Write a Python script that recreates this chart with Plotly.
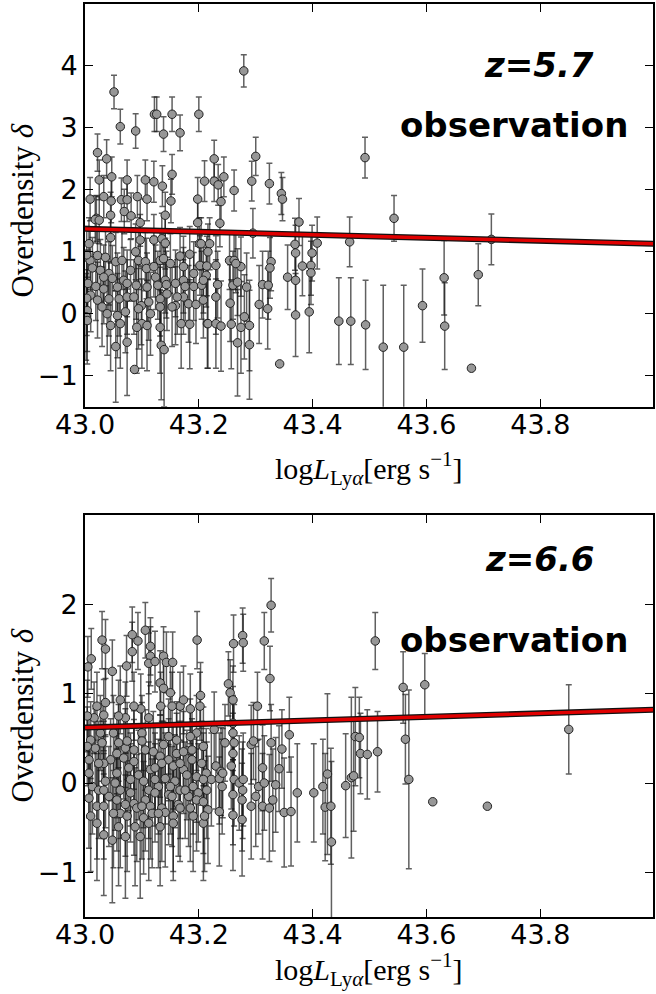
import plotly.graph_objects as go

# ---------------- data: z = 5.7 ----------------
lum_z57 = [
    43.051, 43.062, 43.089, 43.122, 43.126, 43.138, 43.153, 43.167, 43.200, 43.279,
    43.022, 43.038, 43.300, 43.227, 43.153, 43.210, 43.227, 43.234, 43.244, 43.262,
    43.293, 43.324, 43.345, 43.347, 43.376, 43.047,
    43.025, 43.074, 43.106, 43.121, 43.136,
    43.009, 43.033, 43.046, 43.064, 43.074, 43.092, 43.109, 43.151, 43.198,
    43.020, 43.018, 43.025, 43.045, 43.069, 43.081, 43.097, 43.141, 43.198,
    43.007, 43.045, 43.097, 43.121, 43.135, 43.141, 43.201,
    43.009, 43.022, 43.036, 43.054, 43.065, 43.089, 43.094, 43.106, 43.132, 43.138,
    43.167, 43.184, 43.202, 43.214,
    43.013, 43.027, 43.042, 43.048, 43.068, 43.108, 43.124, 43.141, 43.173, 43.191,
    43.005, 43.019, 43.033, 43.057, 43.074, 43.090, 43.109, 43.128, 43.143, 43.159,
    43.176, 43.191, 43.205,
    43.010, 43.022, 43.042, 43.060, 43.074, 43.099, 43.112, 43.132, 43.159, 43.173,
    43.182, 43.195,
    43.039, 43.057, 43.071, 43.094, 43.115, 43.132, 43.169, 43.184, 43.215, 43.045,
    43.062, 43.100, 43.109,
    43.054, 43.074, 43.134, 43.139, 43.087,
    43.003, 43.003, 43.004, 43.002,
    43.239, 43.237, 43.295, 43.408, 43.399, 43.370, 43.369, 43.204, 43.219, 43.216,
    43.230, 43.213, 43.254, 43.262, 43.274, 43.265, 43.327, 43.325, 43.397, 43.382,
    43.356, 43.370, 43.233, 43.260, 43.268, 43.284, 43.312, 43.322, 43.397,
    43.230, 43.306, 43.321, 43.255, 43.370, 43.394,
    43.216, 43.230, 43.239, 43.257, 43.274, 43.280, 43.289, 43.268, 43.289, 43.342,
    43.465, 43.492, 43.543, 43.446, 43.467, 43.493, 43.524, 43.560, 43.593, 43.631,
    43.632, 43.679, 43.691, 43.714,
    43.004, 43.030, 43.086, 43.144, 43.162, 43.150, 43.080, 43.033, 43.121, 43.173,
    43.208, 43.091, 43.132, 43.153, 43.208,
]
delta_z57 = [
    3.58, 3.02, 2.95, 3.22, 3.22, 2.90, 3.22, 2.92, 3.22, 3.92,
    2.60, 2.50, 2.54, 2.50, 2.25, 2.14, 2.14, 2.08, 2.21, 1.99,
    2.14, 2.10, 1.94, 1.85, 1.48, 2.21,
    2.16, 2.16, 2.16, 2.13, 2.06,
    1.85, 1.89, 1.82, 1.84, 1.84, 1.89, 1.85, 1.82, 1.85,
    1.54, 1.52, 1.51, 1.59, 1.65, 1.58, 1.47, 1.59, 1.47,
    1.13, 1.23, 1.19, 1.19, 1.21, 1.14, 1.13,
    0.86, 0.94, 0.91, 0.84, 0.86, 1.00, 0.86, 0.84, 0.86, 0.89,
    0.93, 0.96, 0.78, 0.77,
    0.74, 0.70, 0.65, 0.57, 0.54, 0.73, 0.59, 0.54, 0.54, 0.65,
    0.49, 0.44, 0.40, 0.43, 0.49, 0.46, 0.43, 0.46, 0.47, 0.49,
    0.44, 0.44, 0.46,
    0.30, 0.22, 0.24, 0.24, 0.27, 0.13, 0.19, 0.24, 0.13, 0.27,
    0.16, 0.15,
    0.00, -0.03, 0.03, 0.08, 0.00, 0.11, -0.16, -0.17, -0.16, -0.19,
    -0.16, -0.16, -0.19,
    -0.53, -0.46, -0.51, -0.58, -0.90,
    0.95, 0.25, 0.05, -0.05,
    1.81, 1.46, 1.30, 1.14, 0.98, 0.98, 1.12, 1.13, 1.13, 1.00,
    0.78, 0.62, 0.86, 0.86, 0.76, 0.81, 0.84, 0.74, 0.78, 0.77,
    0.59, 0.54, 0.47, 0.46, 0.51, 0.43, 0.47, 0.46, 0.66,
    0.27, 0.15, 0.08, 0.17, -0.02, 0.03,
    -0.16, -0.16, -0.20, -0.17, -0.22, -0.05, -0.19, -0.47, -0.50, -0.81,
    1.16, 2.52, 1.54, -0.12, -0.12, -0.18, -0.54, -0.54, 0.13, 0.58,
    -0.20, -0.88, 0.63, 1.20,
    -0.11, 0.11, 0.27, 0.32, 0.27, 0.81, 0.70, 0.59, 0.76, 0.76,
    0.54, -0.22, -0.22, 0.11, 0.22,
]
err_z57 = [
    0.27, 0.28, 0.28, 0.28, 0.28, 0.28, 0.28, 0.29, 0.28, 0.26,
    0.30, 0.31, 0.31, 0.30, 0.32, 0.33, 0.33, 0.33, 0.32, 0.33,
    0.32, 0.33, 0.34, 0.35, 0.38, 0.32,
    0.32, 0.32, 0.32, 0.33, 0.33,
    0.35, 0.34, 0.35, 0.35, 0.35, 0.34, 0.35, 0.35, 0.35,
    0.37, 0.38, 0.38, 0.37, 0.36, 0.37, 0.38, 0.37, 0.38,
    0.42, 0.41, 0.41, 0.41, 0.41, 0.42, 0.42,
    0.47, 0.46, 0.46, 0.47, 0.47, 0.45, 0.47, 0.47, 0.47, 0.46,
    0.46, 0.45, 0.48, 0.48,
    0.49, 0.50, 0.51, 0.53, 0.53, 0.49, 0.52, 0.53, 0.53, 0.51,
    0.54, 0.55, 0.56, 0.55, 0.54, 0.55, 0.55, 0.55, 0.54, 0.54,
    0.55, 0.55, 0.55,
    0.59, 0.61, 0.60, 0.60, 0.60, 0.63, 0.62, 0.60, 0.63, 0.60,
    0.62, 0.63,
    0.67, 0.68, 0.66, 0.65, 0.67, 0.64, 0.72, 0.72, 0.72, 0.73,
    0.72, 0.72, 0.73,
    0.90, 0.86, 0.88, 0.92, 0.00,
    0.46, 0.60, 0.66, 0.70,
    0.35, 0.38, 0.40, 0.42, 0.45, 0.45, 0.42, 0.42, 0.42, 0.45,
    0.48, 0.51, 0.47, 0.47, 0.48, 0.47, 0.47, 0.49, 0.48, 0.48,
    0.52, 0.53, 0.54, 0.55, 0.54, 0.55, 0.54, 0.55, 0.51,
    0.60, 0.63, 0.65, 0.62, 0.67, 0.66,
    0.72, 0.72, 0.73, 0.72, 0.74, 0.68, 0.73, 0.86, 0.88, 0.00,
    0.40, 0.33, 0.37, 0.70, 0.70, 0.72, 1.00, 1.00, 0.59, 0.60,
    0.70, 0.00, 0.50, 0.41,
    0.70, 0.64, 0.60, 0.59, 0.60, 0.48, 0.50, 0.52, 0.49, 0.49,
    0.53, 0.74, 0.74, 0.64, 0.61,
]

# ---------------- data: z = 6.6 ----------------
lum_z66 = [
    43.030, 43.036, 43.011, 43.005, 43.048, 43.083, 43.093, 43.083, 43.106, 43.115,
    43.115, 43.112, 43.123, 43.138, 43.143, 43.154, 43.073, 43.197, 43.132, 43.138,
    43.203, 43.202, 43.185, 43.167, 43.153, 43.133, 43.112, 43.098, 43.086, 43.071,
    43.059, 43.036, 43.021, 43.033, 43.016,
    43.010, 43.018, 43.030, 43.050, 43.059, 43.071, 43.100, 43.100, 43.106, 43.120,
    43.132, 43.147, 43.161, 43.173, 43.188, 43.196, 43.205, 43.045, 43.033, 43.068,
    43.086, 43.115, 43.123, 43.141, 43.155, 43.173, 43.188, 43.179, 43.158,
    43.013, 43.024, 43.036, 43.053, 43.062, 43.080, 43.094, 43.103, 43.112, 43.129,
    43.147, 43.167, 43.190, 43.199, 43.214,
    43.007, 43.021, 43.042, 43.056, 43.071, 43.086, 43.106, 43.115, 43.135, 43.153,
    43.164, 43.182, 43.196, 43.208,
    43.010, 43.062, 43.074, 43.091, 43.103, 43.118, 43.141, 43.155, 43.167, 43.190,
    43.208, 43.088, 43.071, 43.048, 43.112,
    43.327, 43.277, 43.278, 43.261, 43.315, 43.325, 43.252, 43.255, 43.260, 43.303,
    43.260, 43.260, 43.262, 43.260, 43.246, 43.227, 43.292, 43.296, 43.327, 43.346,
    43.359, 43.341, 43.312, 43.213, 43.222, 43.230, 43.239, 43.236, 43.242, 43.257,
    43.262, 43.271, 43.278, 43.277,
    43.216, 43.210, 43.236, 43.241, 43.260, 43.260, 43.276, 43.276, 43.292, 43.300,
    43.305, 43.315, 43.312, 43.324, 43.330, 43.335, 43.350, 43.362, 43.373, 43.402,
    43.418, 43.426, 43.422, 43.432, 43.433, 43.458, 43.468, 43.472, 43.475, 43.482,
    43.484, 43.496, 43.514, 43.510, 43.559, 43.597, 43.563, 43.569, 43.611, 43.707,
    43.850,
    43.007, 43.056, 43.077, 43.024, 43.135, 43.167, 43.007, 43.056, 43.086, 43.138,
    43.161, 43.185, 43.147, 43.027, 43.074, 43.033, 43.080, 43.123, 43.176, 43.033,
    43.050, 43.100, 43.129, 43.185, 43.021, 43.059, 43.132, 43.155, 43.033, 43.097,
    43.123, 43.150, 43.196, 43.208, 43.208, 43.004, 43.004, 43.062, 43.150, 43.173,
]
delta_z66 = [
    1.60, 1.50, 1.39, 1.30, 1.25, 1.66, 1.59, 1.47, 1.71, 1.53,
    1.42, 1.34, 1.36, 1.42, 1.35, 1.35, 1.31, 1.60, 1.12, 1.06,
    0.98, 0.86, 0.83, 0.86, 0.86, 0.86, 0.73, 0.83, 0.86, 0.73,
    0.75, 0.90, 0.86, 0.76, 0.73,
    0.48, 0.39, 0.45, 0.56, 0.45, 0.39, 0.56, 0.47, 0.37, 0.35,
    0.30, 0.26, 0.33, 0.35, 0.37, 0.56, 0.22, 0.26, 0.22, 0.28,
    0.24, 0.15, 0.17, 0.05, 0.19, 0.15, 0.26, 0.09, 0.02,
    -0.04, -0.08, 0.02, 0.00, -0.08, 0.04, 0.09, 0.02, -0.08, -0.04,
    -0.13, -0.08, -0.04, -0.11, -0.08,
    -0.17, -0.26, -0.15, -0.19, -0.24, -0.23, -0.19, -0.26, -0.28, -0.15,
    -0.24, -0.15, -0.19, -0.21,
    -0.37, -0.34, -0.37, -0.28, -0.39, -0.34, -0.33, -0.37, -0.28, -0.37,
    -0.45, -0.49, -0.60, -0.64, -0.45,
    1.99, 1.65, 1.57, 1.56, 1.59, 1.17, 1.11, 1.01, 0.93, 0.86,
    0.67, 0.56, 0.45, 0.33, 0.45, 0.60, 0.43, 0.47, 0.45, 0.38,
    0.54, 0.16, 0.17, 0.11, 0.04, 0.19, 0.13, 0.05, 0.11, 0.19,
    0.04, 0.00, 0.04, -0.08,
    -0.30, -0.37, -0.32, -0.04, -0.13, -0.36, -0.19, -0.41, -0.26, -0.15,
    -0.04, 0.00, -0.26, -0.28, -0.19, -0.02, -0.33, -0.32, -0.11, -0.11,
    -0.04, 0.10, -0.27, -0.26, -0.66, -0.03, 0.06, 0.08, 0.52, 0.51,
    0.33, 0.32, 0.35, 1.59, 1.07, 1.10, 0.49, 0.04, -0.21, -0.26,
    0.60,
    0.11, 0.11, 0.17, 0.22, 0.22, 0.22, 0.26, 0.33, 0.37, 0.43,
    0.48, 0.52, 0.52, 0.56, 0.47, -0.08, -0.11, -0.11, -0.08, -0.26,
    -0.34, -0.26, -0.34, -0.28, -0.45, -0.49, -0.49, -0.45, -0.58, -0.60,
    0.04, -0.04, 0.07, 0.04, 0.41, 0.41, 0.75, 0.93, 1.01, 0.93,
]
err_z66 = [
    0.32, 0.33, 0.34, 0.34, 0.35, 0.31, 0.32, 0.33, 0.31, 0.32,
    0.33, 0.34, 0.34, 0.33, 0.34, 0.34, 0.34, 0.32, 0.36, 0.37,
    0.37, 0.38, 0.39, 0.38, 0.38, 0.38, 0.40, 0.39, 0.38, 0.40,
    0.40, 0.38, 0.38, 0.40, 0.40,
    0.43, 0.44, 0.43, 0.42, 0.43, 0.44, 0.42, 0.43, 0.45, 0.45,
    0.46, 0.46, 0.45, 0.45, 0.45, 0.42, 0.47, 0.46, 0.47, 0.46,
    0.47, 0.49, 0.48, 0.51, 0.48, 0.49, 0.46, 0.50, 0.52,
    0.53, 0.54, 0.52, 0.53, 0.54, 0.52, 0.50, 0.52, 0.54, 0.53,
    0.56, 0.54, 0.53, 0.55, 0.54,
    0.56, 0.59, 0.56, 0.57, 0.58, 0.58, 0.57, 0.59, 0.60, 0.56,
    0.58, 0.56, 0.57, 0.58,
    0.62, 0.61, 0.62, 0.60, 0.63, 0.61, 0.61, 0.62, 0.60, 0.62,
    0.64, 0.66, 0.69, 0.70, 0.64,
    0.30, 0.31, 0.32, 0.32, 0.32, 0.36, 0.36, 0.37, 0.38, 0.38,
    0.41, 0.42, 0.43, 0.45, 0.43, 0.42, 0.44, 0.43, 0.43, 0.44,
    0.42, 0.48, 0.48, 0.50, 0.52, 0.48, 0.49, 0.51, 0.50, 0.48,
    0.52, 0.53, 0.52, 0.54,
    0.60, 0.62, 0.61, 0.53, 0.56, 0.62, 0.57, 0.63, 0.59, 0.56,
    0.53, 0.53, 0.59, 0.60, 0.57, 0.53, 0.61, 0.61, 0.55, 0.55,
    0.53, 0.90, 0.60, 0.65, 0.90, 0.58, 0.90, 0.62, 0.55, 0.45,
    0.45, 0.50, 0.45, 0.32, 0.40, 0.35, 0.50, 1.00, 0.00, 0.00,
    0.50,
    0.50, 0.50, 0.48, 0.47, 0.47, 0.47, 0.46, 0.45, 0.44, 0.43,
    0.43, 0.42, 0.42, 0.42, 0.43, 0.54, 0.55, 0.55, 0.54, 0.59,
    0.61, 0.59, 0.61, 0.60, 0.64, 0.66, 0.66, 0.64, 0.68, 0.69,
    0.52, 0.53, 0.51, 0.52, 0.44, 0.44, 0.40, 0.38, 0.37, 0.38,
]

# best-fit lines (endpoints at the axis limits)
fit_lum = [43.0, 44.0]
fit_z57 = [1.37, 1.13]
fit_z66 = [0.62, 0.82]

x_ticks = [43.0, 43.2, 43.4, 43.6, 43.8]
x_ticklabels = ["43.0", "43.2", "43.4", "43.6", "43.8"]

fig = go.Figure()


def add_panel(xs, ys, es, fy, xa, ya):
    fig.add_trace(go.Scatter(
        x=xs, y=ys, mode="markers", xaxis=xa, yaxis=ya, showlegend=False,
        error_y=dict(type="data", array=es, visible=True,
                     color="rgba(20,20,20,0.68)", thickness=1.5, width=3),
        marker=dict(size=8.5, color="#979797", line=dict(color="#222222", width=1)),
    ))
    fig.add_trace(go.Scatter(x=fit_lum, y=fy, mode="lines", xaxis=xa, yaxis=ya,
                             showlegend=False, line=dict(color="#111111", width=6)))
    fig.add_trace(go.Scatter(x=fit_lum, y=fy, mode="lines", xaxis=xa, yaxis=ya,
                             showlegend=False, line=dict(color="#e00000", width=3.4)))


add_panel(lum_z57, delta_z57, err_z57, fit_z57, "x", "y")
add_panel(lum_z66, delta_z66, err_z66, fit_z66, "x2", "y2")

tick_font = dict(family="DejaVu Sans", size=27, color="black")
common_x = dict(range=[43.0, 43.998], tickvals=x_ticks, ticktext=x_ticklabels,
                ticks="inside", ticklen=8, tickwidth=1.2, tickcolor="black",
                showline=True, linecolor="black", linewidth=2, mirror="ticks",
                showgrid=False, zeroline=False, tickfont=tick_font,
                ticklabelstandoff=-7)
common_y = dict(ticks="inside", ticklen=8, tickwidth=1.2, tickcolor="black",
                showline=True, linecolor="black", linewidth=2, mirror="ticks",
                showgrid=False, zeroline=False, tickfont=tick_font)

fig.update_layout(
    width=656, height=994,
    margin=dict(l=85, r=1, t=4, b=77),
    paper_bgcolor="white", plot_bgcolor="white",
    xaxis=dict(domain=[0, 1], anchor="y", **common_x),
    yaxis=dict(domain=[0.559, 1.0], anchor="x", range=[-1.5, 5.0],
               tickvals=[-1, 0, 1, 2, 3, 4], **common_y),
    xaxis2=dict(domain=[0, 1], anchor="y2", **common_x),
    yaxis2=dict(domain=[0.0, 0.4403], anchor="x2", range=[-1.5, 3.0],
                tickvals=[-1, 0, 1, 2], **common_y),
)

serif = dict(family="Liberation Serif", size=30, color="black")
xtitle = "log<i>L</i><sub>Ly<i>α</i></sub>[erg s<sup>−1</sup>]"
ytitle = "Overdensity <i>δ</i>"
label_font = dict(family="DejaVu Sans", size=34, color="black")

anns = [
    dict(text=xtitle, xref="paper", yref="paper", x=0.5, y=0.491, showarrow=False,
         font=serif, xanchor="center", yanchor="middle"),
    dict(text=xtitle, xref="paper", yref="paper", x=0.5, y=-0.057, showarrow=False,
         font=serif, xanchor="center", yanchor="middle"),
    dict(text=ytitle, xref="paper", yref="paper", x=-0.1105, y=0.774, showarrow=False,
         font=dict(family="Liberation Serif", size=31, color="black"),
         textangle=-90, xanchor="center", yanchor="middle"),
    dict(text=ytitle, xref="paper", yref="paper", x=-0.1105, y=0.221, showarrow=False,
         font=dict(family="Liberation Serif", size=31, color="black"),
         textangle=-90, xanchor="center", yanchor="middle"),
    dict(text="<b><i>z=5.7</i></b>", xref="x", yref="y", x=43.798, y=4.01,
         showarrow=False, font=label_font, xanchor="center", yanchor="middle"),
    dict(text="<b>observation</b>", xref="x", yref="y", x=43.754, y=3.04,
         showarrow=False, font=label_font, xanchor="center", yanchor="middle"),
    dict(text="<b><i>z=6.6</i></b>", xref="x2", yref="y2", x=43.800, y=2.51,
         showarrow=False, font=label_font, xanchor="center", yanchor="middle"),
    dict(text="<b>observation</b>", xref="x2", yref="y2", x=43.754, y=1.60,
         showarrow=False, font=label_font, xanchor="center", yanchor="middle"),
]
fig.update_layout(annotations=anns)

fig.write_html("out.html")
